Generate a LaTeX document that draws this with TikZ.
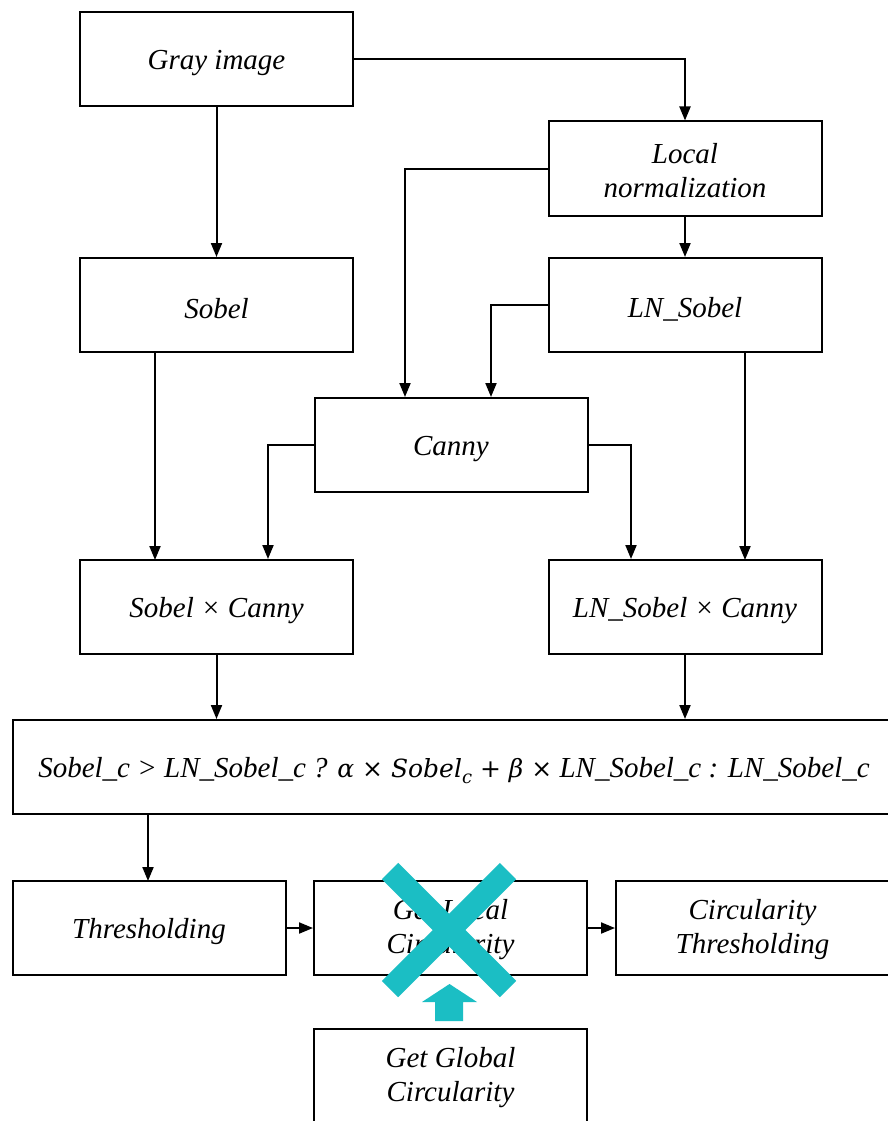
\documentclass[tikz,border=0pt]{standalone}
\usepackage{fontspec}
\setmainfont{Liberation Serif}
\newfontfamily\camfont{DejaVu Serif}
\usetikzlibrary{arrows.meta}
\definecolor{teal1}{HTML}{1BBEC4}
\begin{document}
\begin{tikzpicture}[x=1pt,y=-1pt,
  box/.style={draw,line width=2pt,minimum width=273pt,minimum height=94pt,inner sep=0pt},
  txt/.style={inner sep=0pt,align=center,font=\fontsize{29}{34}\selectfont\itshape},
  one/.style={label={[txt,yshift=-4pt]center:#1}},
  two/.style={label={[txt,yshift=-2pt]center:#1}},
  conn/.style={line width=2pt,-{Triangle[length=14pt,width=11pt]}}]
\useasboundingbox (0,0) rectangle (887,1121);
\fill[white] (0,0) rectangle (887,1121);
\node[box,one={Gray image}] (gray) at (216.5,59.5) {};
\node[box,two={Local\\normalization}] (ln) at (685,168.5) {};
\node[box,one={Sobel}] (sobel) at (216.5,305) {};
\node[box,one={LN\_Sobel}] (lns) at (685,305) {};
\node[box,one={Canny}] (canny) at (451,445) {};
\node[box,one={Sobel × Canny}] (sc) at (216.5,607) {};
\node[box,one={LN\_Sobel × Canny}] (lnsc) at (685,607) {};
\node[box,minimum width=882pt] (form) at (454,767) {};
\node[txt,yshift=-4pt] (formtxt) at (form.center) {Sobel\_c > LN\_Sobel\_c ? {\camfont\fontsize{25}{30}\selectfont α × \textit{Sobel}\raisebox{-6pt}{\fontsize{18}{20}\selectfont\textit{c}} + β ×} LN\_Sobel\_c : LN\_Sobel\_c};
\node[box,one={Thresholding}] (thr) at (149,928) {};
\node[box,two={Get Local\\Circularity}] (glc) at (450.5,928) {};
\node[box,two={Circularity\\Thresholding}] (ct) at (752.5,928) {};
\node[box,two={Get Global\\Circularity}] (ggc) at (450.5,1075.5) {};
\coordinate (c1) at (685,59.5);
\coordinate (c2) at (405,168.5);
\coordinate (c3) at (491,305);
\coordinate (c4) at (268,445);
\coordinate (c5) at (631,445);
\draw[conn] (gray.east) -- (c1) -- (ln.north);
\draw[conn] (gray.south) -- (sobel.north);
\draw[conn] (ln.west) -- (c2) -- (c2 |- canny.north);
\draw[conn] (ln.south) -- (lns.north);
\draw[conn] (lns.west) -- (c3) -- (c3 |- canny.north);
\draw[conn] (155,352) -- (155,560);
\draw[conn] (canny.west) -- (c4) -- (c4 |- sc.north);
\draw[conn] (canny.east) -- (c5) -- (c5 |- lnsc.north);
\draw[conn] (745,352) -- (745,560);
\draw[conn] (sc.south) -- (form.north -| sc.south);
\draw[conn] (lnsc.south) -- (form.north -| lnsc.south);
\draw[conn] (148,814) -- (148,881);
\draw[conn] (thr.east) -- (glc.west);
\draw[conn] (glc.east) -- (ct.west);
\draw[teal1,line width=23pt] (390,871) -- (508,989);
\draw[teal1,line width=23pt] (508,871) -- (390,989);
\fill[teal1] (435,1021) -- (435,1002) -- (422,1002) -- (449.5,984) -- (477,1002) -- (463,1002) -- (463,1021) -- cycle;
\end{tikzpicture}
\end{document}
